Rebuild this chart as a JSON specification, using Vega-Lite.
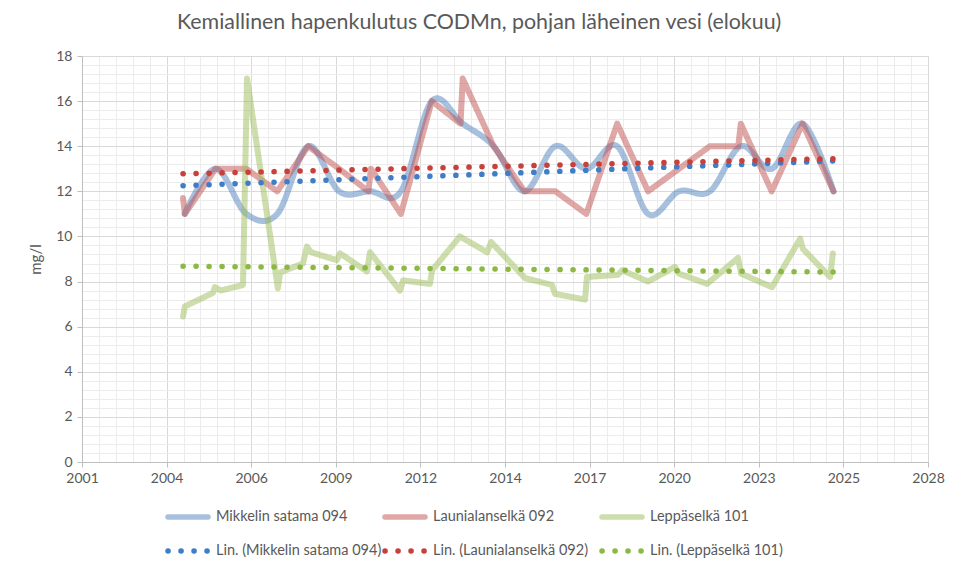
{
  "$schema": "https://vega.github.io/schema/vega-lite/v6.json",
  "width": 846,
  "height": 406,
  "autosize": {"type": "none"},
  "padding": {"left": 82, "top": 56, "right": 41, "bottom": 101},
  "background": "white",
  "title": {"text": "Kemiallinen hapenkulutus CODMn, pohjan läheinen vesi (elokuu)", "fontSize": 21.4, "font": "Lato", "fontWeight": "normal", "color": "#595959", "offset": 16, "dx": -26},
  "config": {"view": {"stroke": null}, "font": "Lato"},
  "datasets": {
    "mikkeli": [
      {"label": "Mikkelin satama 094", "year": 2004.6, "value": 11},
      {"label": "Mikkelin satama 094", "year": 2005.6, "value": 13},
      {"label": "Mikkelin satama 094", "year": 2006.6, "value": 11},
      {"label": "Mikkelin satama 094", "year": 2007.6, "value": 11},
      {"label": "Mikkelin satama 094", "year": 2008.6, "value": 14},
      {"label": "Mikkelin satama 094", "year": 2009.6, "value": 12},
      {"label": "Mikkelin satama 094", "year": 2010.6, "value": 12},
      {"label": "Mikkelin satama 094", "year": 2011.6, "value": 12},
      {"label": "Mikkelin satama 094", "year": 2012.6, "value": 16},
      {"label": "Mikkelin satama 094", "year": 2013.6, "value": 15},
      {"label": "Mikkelin satama 094", "year": 2014.6, "value": 14},
      {"label": "Mikkelin satama 094", "year": 2015.6, "value": 12},
      {"label": "Mikkelin satama 094", "year": 2016.6, "value": 14},
      {"label": "Mikkelin satama 094", "year": 2017.6, "value": 13},
      {"label": "Mikkelin satama 094", "year": 2018.6, "value": 14},
      {"label": "Mikkelin satama 094", "year": 2019.6, "value": 11},
      {"label": "Mikkelin satama 094", "year": 2020.6, "value": 12},
      {"label": "Mikkelin satama 094", "year": 2021.6, "value": 12},
      {"label": "Mikkelin satama 094", "year": 2022.6, "value": 14},
      {"label": "Mikkelin satama 094", "year": 2023.6, "value": 13},
      {"label": "Mikkelin satama 094", "year": 2024.6, "value": 15},
      {"label": "Mikkelin satama 094", "year": 2025.6, "value": 12}
    ],
    "others": [
      {"label": "Launialanselkä 092", "year": 2004.55, "value": 11.7},
      {"label": "Launialanselkä 092", "year": 2004.61, "value": 11},
      {"label": "Launialanselkä 092", "year": 2005.6, "value": 13},
      {"label": "Launialanselkä 092", "year": 2006.6, "value": 13},
      {"label": "Launialanselkä 092", "year": 2007.6, "value": 12},
      {"label": "Launialanselkä 092", "year": 2008.6, "value": 14},
      {"label": "Launialanselkä 092", "year": 2009.6, "value": 13},
      {"label": "Launialanselkä 092", "year": 2010.55, "value": 12},
      {"label": "Launialanselkä 092", "year": 2010.63, "value": 13},
      {"label": "Launialanselkä 092", "year": 2011.6, "value": 11},
      {"label": "Launialanselkä 092", "year": 2012.6, "value": 16},
      {"label": "Launialanselkä 092", "year": 2013.53, "value": 15},
      {"label": "Launialanselkä 092", "year": 2013.6, "value": 17},
      {"label": "Launialanselkä 092", "year": 2014.6, "value": 14},
      {"label": "Launialanselkä 092", "year": 2015.6, "value": 12},
      {"label": "Launialanselkä 092", "year": 2016.6, "value": 12},
      {"label": "Launialanselkä 092", "year": 2017.6, "value": 11},
      {"label": "Launialanselkä 092", "year": 2018.6, "value": 15},
      {"label": "Launialanselkä 092", "year": 2019.6, "value": 12},
      {"label": "Launialanselkä 092", "year": 2020.6, "value": 13},
      {"label": "Launialanselkä 092", "year": 2021.6, "value": 14},
      {"label": "Launialanselkä 092", "year": 2022.52, "value": 14},
      {"label": "Launialanselkä 092", "year": 2022.6, "value": 15},
      {"label": "Launialanselkä 092", "year": 2023.6, "value": 12},
      {"label": "Launialanselkä 092", "year": 2024.6, "value": 15},
      {"label": "Launialanselkä 092", "year": 2025.6, "value": 12},
      {"label": "Leppäselkä 101", "year": 2004.55, "value": 6.45},
      {"label": "Leppäselkä 101", "year": 2004.61, "value": 6.9},
      {"label": "Leppäselkä 101", "year": 2005.52, "value": 7.5},
      {"label": "Leppäselkä 101", "year": 2005.58, "value": 7.75},
      {"label": "Leppäselkä 101", "year": 2005.78, "value": 7.6},
      {"label": "Leppäselkä 101", "year": 2006.49, "value": 7.85},
      {"label": "Leppäselkä 101", "year": 2006.62, "value": 17},
      {"label": "Leppäselkä 101", "year": 2007.62, "value": 7.7},
      {"label": "Leppäselkä 101", "year": 2007.69, "value": 8.4},
      {"label": "Leppäselkä 101", "year": 2008.43, "value": 8.8},
      {"label": "Leppäselkä 101", "year": 2008.56, "value": 9.55},
      {"label": "Leppäselkä 101", "year": 2008.69, "value": 9.3},
      {"label": "Leppäselkä 101", "year": 2009.53, "value": 8.95},
      {"label": "Leppäselkä 101", "year": 2009.63, "value": 9.25},
      {"label": "Leppäselkä 101", "year": 2010.5, "value": 8.45},
      {"label": "Leppäselkä 101", "year": 2010.6, "value": 9.3},
      {"label": "Leppäselkä 101", "year": 2011.57, "value": 7.6},
      {"label": "Leppäselkä 101", "year": 2011.67, "value": 8.05},
      {"label": "Leppäselkä 101", "year": 2012.54, "value": 7.9},
      {"label": "Leppäselkä 101", "year": 2012.61, "value": 8.5},
      {"label": "Leppäselkä 101", "year": 2013.51, "value": 10.0},
      {"label": "Leppäselkä 101", "year": 2014.39, "value": 9.3},
      {"label": "Leppäselkä 101", "year": 2014.52, "value": 9.75},
      {"label": "Leppäselkä 101", "year": 2015.62, "value": 8.15},
      {"label": "Leppäselkä 101", "year": 2016.49, "value": 7.85},
      {"label": "Leppäselkä 101", "year": 2016.59, "value": 7.45},
      {"label": "Leppäselkä 101", "year": 2017.56, "value": 7.2},
      {"label": "Leppäselkä 101", "year": 2017.62, "value": 8.2},
      {"label": "Leppäselkä 101", "year": 2018.63, "value": 8.3},
      {"label": "Leppäselkä 101", "year": 2018.76, "value": 8.5},
      {"label": "Leppäselkä 101", "year": 2019.6, "value": 8.0},
      {"label": "Leppäselkä 101", "year": 2020.47, "value": 8.65},
      {"label": "Leppäselkä 101", "year": 2020.6, "value": 8.35},
      {"label": "Leppäselkä 101", "year": 2021.51, "value": 7.9},
      {"label": "Leppäselkä 101", "year": 2022.51, "value": 9.05},
      {"label": "Leppäselkä 101", "year": 2022.61, "value": 8.35},
      {"label": "Leppäselkä 101", "year": 2023.61, "value": 7.75},
      {"label": "Leppäselkä 101", "year": 2024.52, "value": 9.9},
      {"label": "Leppäselkä 101", "year": 2024.61, "value": 9.45},
      {"label": "Leppäselkä 101", "year": 2025.49, "value": 8.2},
      {"label": "Leppäselkä 101", "year": 2025.58, "value": 9.25}
    ],
    "trend": [
      {"label": "Lin. (Mikkelin satama 094)", "year": 2004.55, "value": 12.25},
      {"label": "Lin. (Mikkelin satama 094)", "year": 2025.6, "value": 13.35},
      {"label": "Lin. (Launialanselkä 092)", "year": 2004.55, "value": 12.78},
      {"label": "Lin. (Launialanselkä 092)", "year": 2025.6, "value": 13.45},
      {"label": "Lin. (Leppäselkä 101)", "year": 2004.55, "value": 8.68},
      {"label": "Lin. (Leppäselkä 101)", "year": 2025.6, "value": 8.42}
    ]
  },
  "layer": [
    {
      "data": {"name": "mikkeli"},
      "mark": {"type": "line", "interpolate": "cardinal", "strokeWidth": 6, "strokeCap": "round", "strokeJoin": "round"},
      "encoding": {
        "x": {"field": "year", "type": "quantitative", "scale": {"domain": [2001.28, 2028.6585], "nice": false, "zero": false},
          "axis": {"orient": "bottom", "values": [2001.28, 2001.8276, 2002.3751, 2002.9227, 2003.4703, 2004.0179, 2004.5654, 2005.113, 2005.6606, 2006.2081, 2006.7557, 2007.3033, 2007.8508, 2008.3984, 2008.946, 2009.4936, 2010.0411, 2010.5887, 2011.1363, 2011.6838, 2012.2314, 2012.779, 2013.3265, 2013.8741, 2014.4217, 2014.9693, 2015.5168, 2016.0644, 2016.612, 2017.1595, 2017.7071, 2018.2547, 2018.8022, 2019.3498, 2019.8974, 2020.445, 2020.9925, 2021.5401, 2022.0877, 2022.6352, 2023.1828, 2023.7304, 2024.2779, 2024.8255, 2025.3731, 2025.9207, 2026.4682, 2027.0158, 2027.5634, 2028.1109, 2028.6585],
            "grid": true, "gridColor": "#ececec", "gridWidth": 1, "labels": false, "ticks": false, "domain": false, "title": null}},
        "y": {"field": "value", "type": "quantitative", "scale": {"domain": [0, 18], "nice": false},
          "axis": {"orient": "left", "values": [0, 0.4, 0.8, 1.2, 1.6, 2, 2.4, 2.8, 3.2, 3.6, 4, 4.4, 4.8, 5.2, 5.6, 6, 6.4, 6.8, 7.2, 7.6, 8, 8.4, 8.8, 9.2, 9.6, 10, 10.4, 10.8, 11.2, 11.6, 12, 12.4, 12.8, 13.2, 13.6, 14, 14.4, 14.8, 15.2, 15.6, 16, 16.4, 16.8, 17.2, 17.6, 18],
            "grid": true, "gridColor": "#ececec", "gridWidth": 1, "labels": false, "ticks": false, "domain": false, "title": null}},
        "color": {"field": "label", "type": "nominal",
          "scale": {"domain": ["Mikkelin satama 094", "Launialanselkä 092", "Leppäselkä 101", "Lin. (Mikkelin satama 094)", "Lin. (Launialanselkä 092)", "Lin. (Leppäselkä 101)"],
            "range": ["rgba(79,129,189,0.5)", "rgba(192,80,77,0.5)", "rgba(155,187,89,0.5)", "#3F7DC6", "#C9403A", "#8CB944"]},
          "legend": {"orient": "none", "legendX": 83, "legendY": 438, "columns": 3, "direction": "horizontal", "title": null, "symbolType": "stroke", "symbolSize": 1600, "symbolStrokeWidth": 5.5, "labelFontSize": 14.5, "labelColor": "#595959", "labelFont": "Lato", "columnPadding": -11, "rowPadding": -20, "gridAlign": "all", "labelOffset": 5, "labelLimit": 300,
            "encode": {"symbols": {"update": {"strokeCap": {"value": "round"}}}}}},
        "strokeDash": {"field": "label", "type": "nominal",
          "scale": {"domain": ["Mikkelin satama 094", "Launialanselkä 092", "Leppäselkä 101", "Lin. (Mikkelin satama 094)", "Lin. (Launialanselkä 092)", "Lin. (Leppäselkä 101)"],
            "range": [[1, 0], [1, 0], [1, 0], [0.1, 12.9], [0.1, 12.9], [0.1, 12.9]]}}
      }
    },
    {
      "data": {"name": "others"},
      "mark": {"type": "line", "interpolate": "linear", "strokeWidth": 6, "strokeCap": "round", "strokeJoin": "round"},
      "encoding": {
        "x": {"field": "year", "type": "quantitative",
          "axis": {"orient": "bottom", "values": [2001.28, 2004.0179, 2006.7557, 2009.4936, 2012.2314, 2014.9693, 2017.7071, 2020.445, 2023.1828, 2025.9207, 2028.6585],
            "labelExpr": "'' + floor(datum.value)", "grid": true, "gridColor": "#d9d9d9", "gridWidth": 1, "tickColor": "#bfbfbf", "tickSize": 5, "domainColor": "#bfbfbf", "labelColor": "#595959", "labelFontSize": 14, "labelFont": "Lato", "labelPadding": 4, "labelFlush": false, "labelOverlap": false, "title": null}},
        "y": {"field": "value", "type": "quantitative",
          "axis": {"orient": "left", "values": [0, 2, 4, 6, 8, 10, 12, 14, 16, 18], "grid": true, "gridColor": "#d9d9d9", "gridWidth": 1, "tickColor": "#bfbfbf", "tickSize": 5, "domainColor": "#bfbfbf", "labelColor": "#595959", "labelFontSize": 14, "labelFont": "Lato", "labelPadding": 5,
            "title": "mg/l", "titleFontSize": 15, "titleFont": "Lato", "titleFontWeight": "normal", "titleColor": "#595959", "titlePadding": 12}},
        "color": {"field": "label", "type": "nominal"},
        "strokeDash": {"field": "label", "type": "nominal"}
      }
    },
    {
      "data": {"name": "trend"},
      "mark": {"type": "line", "strokeWidth": 5.5, "strokeCap": "round"},
      "encoding": {
        "x": {"field": "year", "type": "quantitative", "axis": null},
        "y": {"field": "value", "type": "quantitative", "axis": null},
        "color": {"field": "label", "type": "nominal"},
        "strokeDash": {"field": "label", "type": "nominal"}
      }
    }
  ],
  "resolve": {"axis": {"x": "independent", "y": "independent"}}
}
